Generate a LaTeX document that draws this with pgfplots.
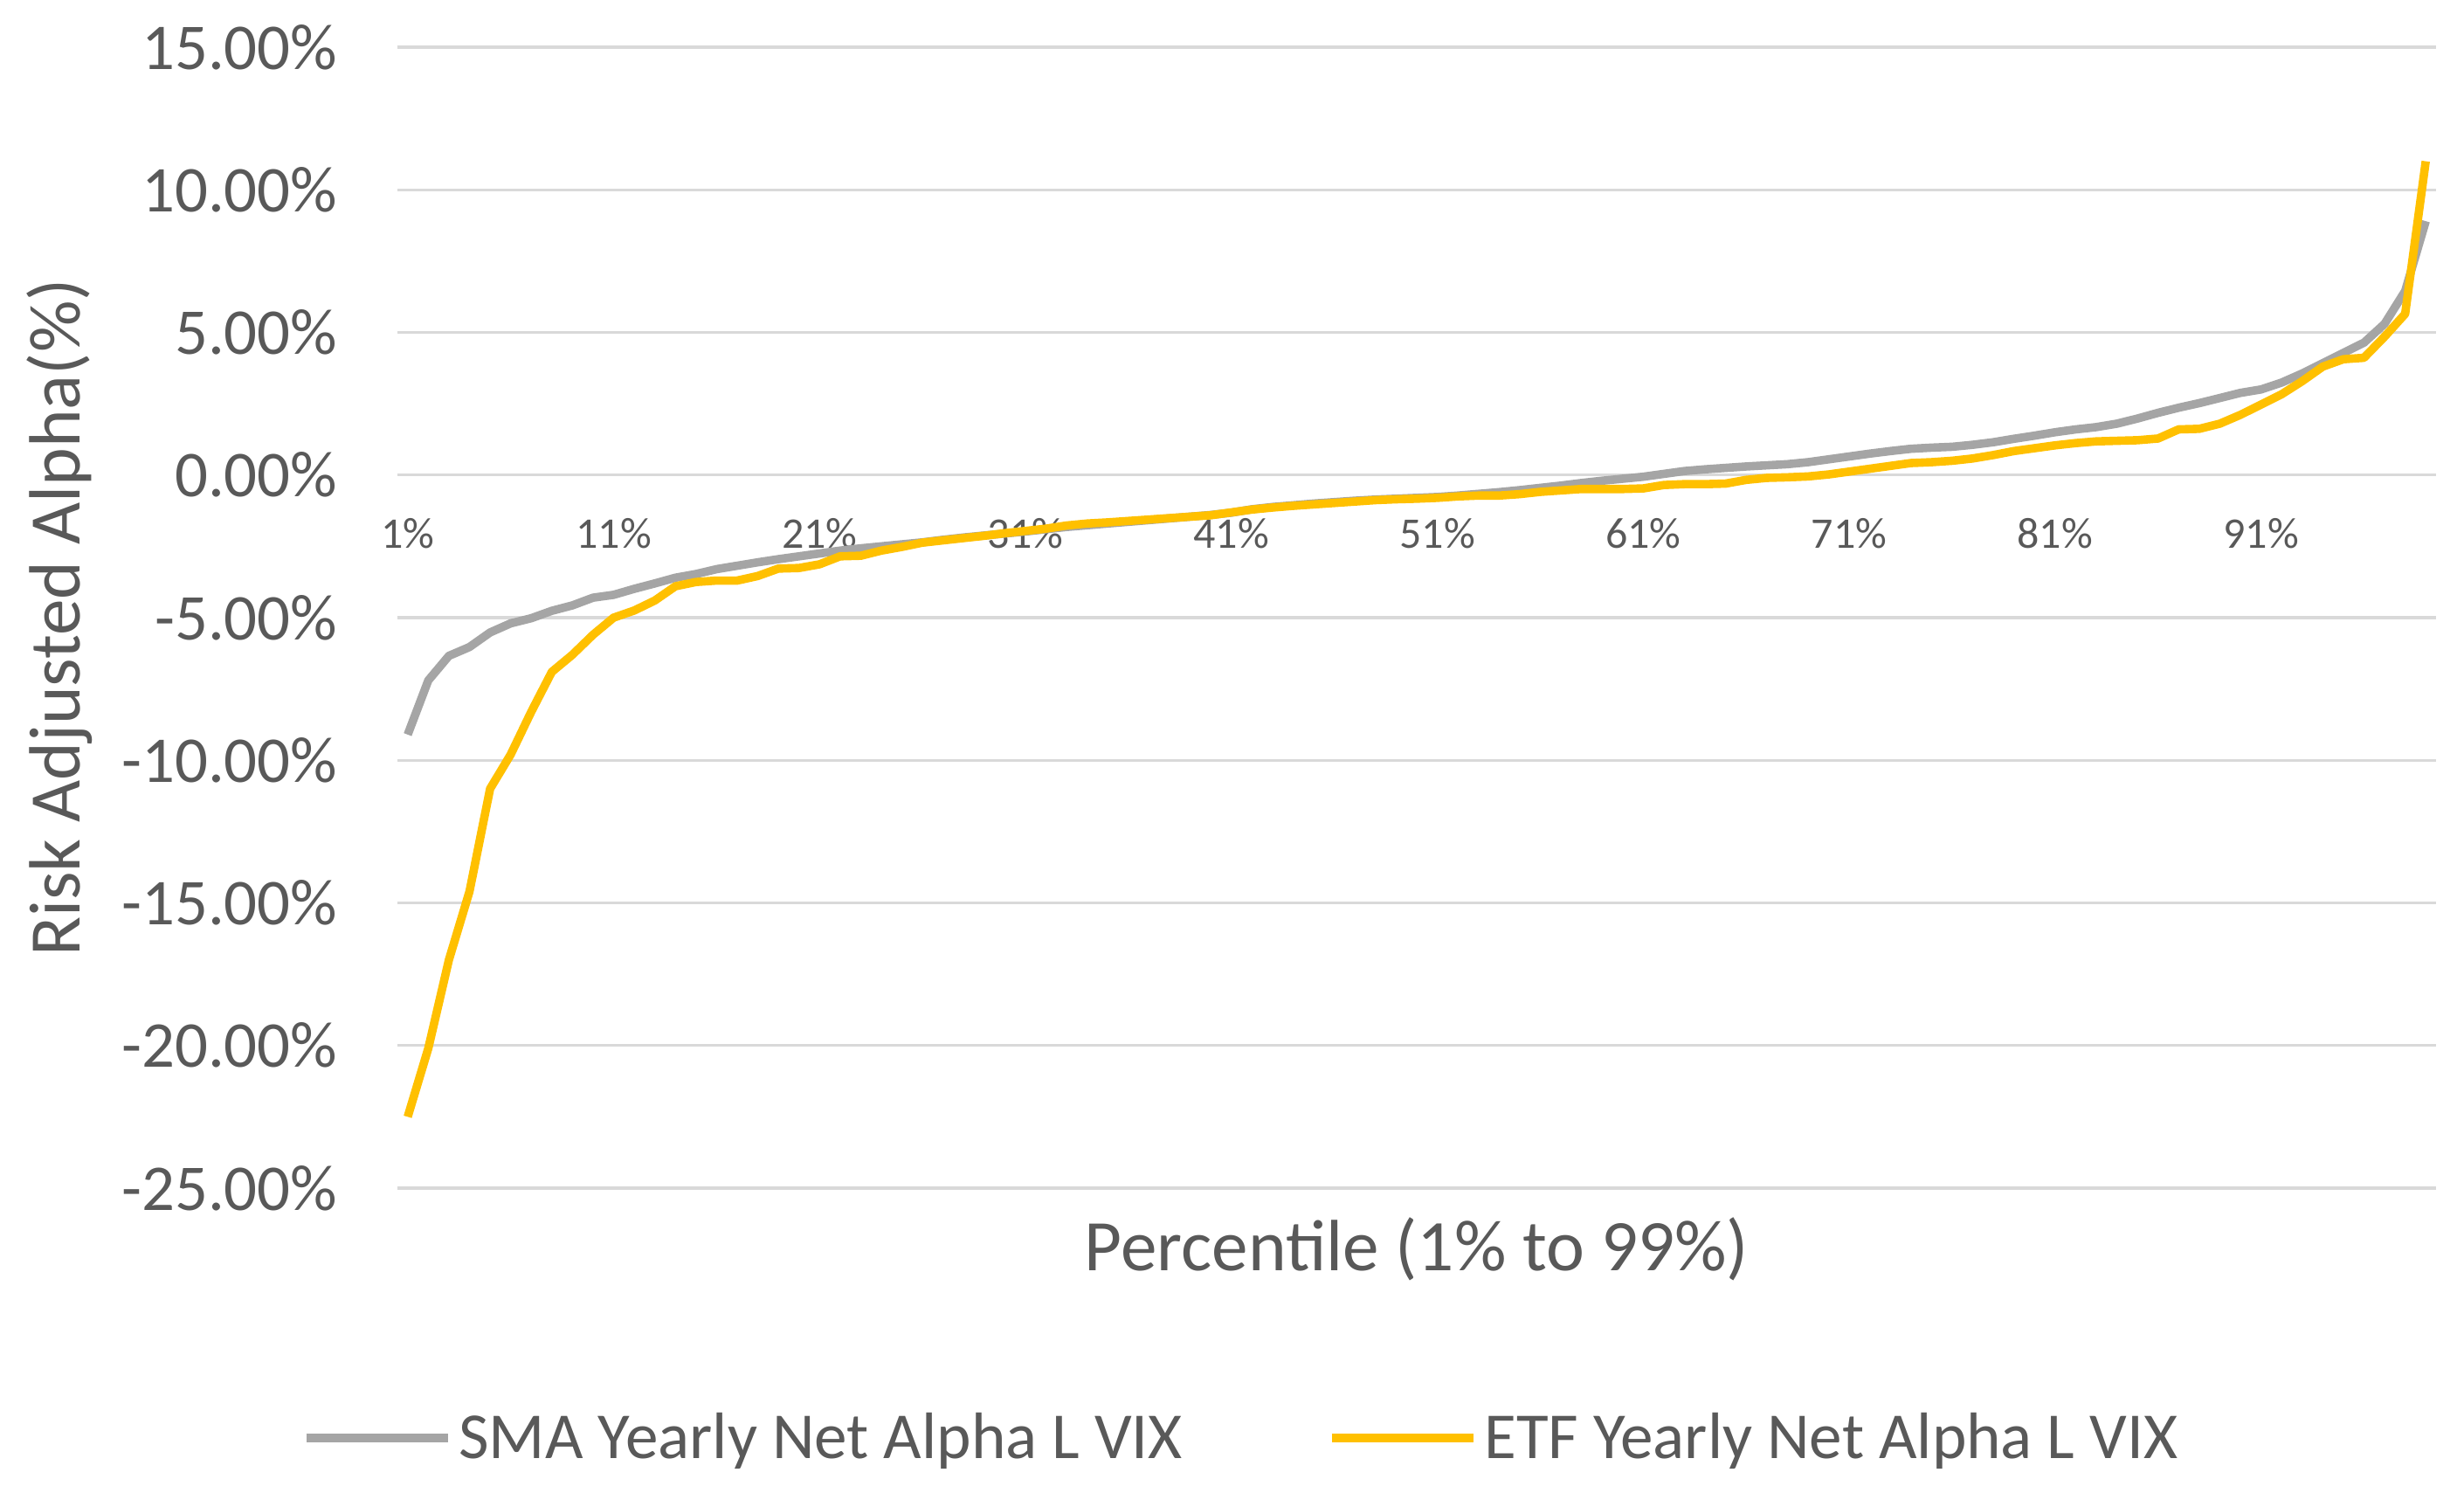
\documentclass[border=0pt]{standalone}
\usepackage{fontspec}
\setmainfont{Carlito}
\usepackage{pgfplots}
\usepackage{pgfplotstable}
\pgfplotsset{compat=1.18}

\definecolor{smagray}{HTML}{A5A5A5}
\definecolor{etfgold}{HTML}{FFC000}
\definecolor{txtgray}{HTML}{595959}
\definecolor{gridgray}{HTML}{D9D9D9}

% percentile, SMA alpha, ETF alpha (in %)
\pgfplotstableread{
pct sma etf
1 -9.10 -22.50
2 -7.20 -20.10
3 -6.34 -17.00
4 -6.03 -14.60
5 -5.52 -11.00
6 -5.20 -9.80
7 -5.02 -8.30
8 -4.76 -6.90
9 -4.57 -6.30
10 -4.30 -5.60
11 -4.20 -5.00
12 -3.99 -4.75
13 -3.80 -4.40
14 -3.60 -3.90
15 -3.47 -3.75
16 -3.30 -3.70
17 -3.18 -3.70
18 -3.06 -3.54
19 -2.95 -3.28
20 -2.85 -3.26
21 -2.75 -3.13
22 -2.65 -2.85
23 -2.57 -2.83
24 -2.50 -2.65
25 -2.43 -2.52
26 -2.36 -2.37
27 -2.27 -2.29
28 -2.19 -2.21
29 -2.12 -2.13
30 -2.05 -2.04
31 -1.98 -1.96
32 -1.90 -1.88
33 -1.82 -1.77
34 -1.76 -1.70
35 -1.70 -1.66
36 -1.64 -1.61
37 -1.58 -1.56
38 -1.52 -1.51
39 -1.46 -1.46
40 -1.40 -1.41
41 -1.32 -1.31
42 -1.20 -1.21
43 -1.12 -1.14
44 -1.06 -1.08
45 -1.00 -1.03
46 -0.95 -0.98
47 -0.90 -0.93
48 -0.86 -0.88
49 -0.83 -0.85
50 -0.80 -0.83
51 -0.77 -0.80
52 -0.72 -0.75
53 -0.66 -0.72
54 -0.60 -0.72
55 -0.53 -0.67
56 -0.45 -0.59
57 -0.37 -0.54
58 -0.28 -0.49
59 -0.20 -0.49
60 -0.13 -0.49
61 -0.06 -0.47
62 0.04 -0.35
63 0.14 -0.32
64 0.20 -0.32
65 0.25 -0.30
66 0.30 -0.17
67 0.34 -0.10
68 0.38 -0.08
69 0.45 -0.05
70 0.55 0.02
71 0.65 0.12
72 0.75 0.22
73 0.84 0.32
74 0.92 0.42
75 0.96 0.45
76 0.99 0.50
77 1.06 0.58
78 1.15 0.70
79 1.27 0.84
80 1.38 0.94
81 1.50 1.04
82 1.60 1.12
83 1.68 1.18
84 1.80 1.20
85 1.98 1.22
86 2.18 1.28
87 2.36 1.60
88 2.52 1.62
89 2.70 1.80
90 2.88 2.11
91 3.00 2.47
92 3.24 2.83
93 3.56 3.29
94 3.92 3.80
95 4.28 4.06
96 4.64 4.11
97 5.30 4.85
98 6.45 5.65
99 8.90 11.00
}\alphadata

\begin{document}
\begin{tikzpicture}
\begin{axis}[
    name=ax,
    scale only axis,
    width=583.5bp, height=326.5bp,
    xmin=0.5, xmax=99.5,
    ymin=-25, ymax=15,
    ytick={-25,-20,...,15},
    yticklabels={-25.00\%,-20.00\%,-15.00\%,-10.00\%,-5.00\%,0.00\%,5.00\%,10.00\%,15.00\%},
    xtick={1,11,21,31,41,51,61,71,81,91},
    xticklabels={1\%,11\%,21\%,31\%,41\%,51\%,61\%,71\%,81\%,91\%},
    ymajorgrids,
    grid style={gridgray, line width=0.85bp},
    axis line style={draw=none},
    tick style={draw=none},
    major tick length=0pt,
    yticklabel style={anchor=east, inner sep=0pt, xshift=-17bp,
        font=\fontsize{18.7bp}{22bp}\selectfont, text=txtgray},
    xticklabel style={anchor=north, inner sep=0pt, yshift=191.8bp,
        font=\fontsize{12.5bp}{15bp}\selectfont, text=txtgray},
    ylabel={Risk Adjusted Alpha(\%)},
    ylabel style={at={(axis description cs:0,0.5)}, anchor=center,
        yshift=96.75bp, inner sep=0pt,
        font=\fontsize{20.8bp}{24bp}\selectfont, text=txtgray},
    xlabel={Percentile (1\% to 99\%)},
    xlabel style={at={(axis description cs:0.5,0)}, anchor=center,
        yshift=-17.5bp, inner sep=0pt,
        font=\fontsize{20.8bp}{24bp}\selectfont, text=txtgray},
    legend columns=2,
    legend cell align=left,
    legend image code/.code={\draw[#1] (0bp,0bp) -- (40.5bp,0bp);},
    legend style={draw=none, fill=none,
        at={(axis description cs:0.415,-0.219)}, anchor=center,
        font=\fontsize{18.8bp}{22bp}\selectfont, text=txtgray,
        /tikz/every even column/.append style={column sep=39.5bp}},
]
\addplot[smagray, line width=2.4bp, line join=round] table[x=pct, y=sma] {\alphadata};
\addlegendentry{SMA Yearly Net Alpha L VIX}
\addplot[etfgold, line width=2.4bp, line join=round] table[x=pct, y=etf] {\alphadata};
\addlegendentry{ETF Yearly Net Alpha L VIX}
\end{axis}
\pgfresetboundingbox
\path[use as bounding box] ([xshift=-113.75bp, yshift=-89.25bp]ax.south west) rectangle ++(705.25bp,429.25bp);
\end{tikzpicture}
\end{document}
